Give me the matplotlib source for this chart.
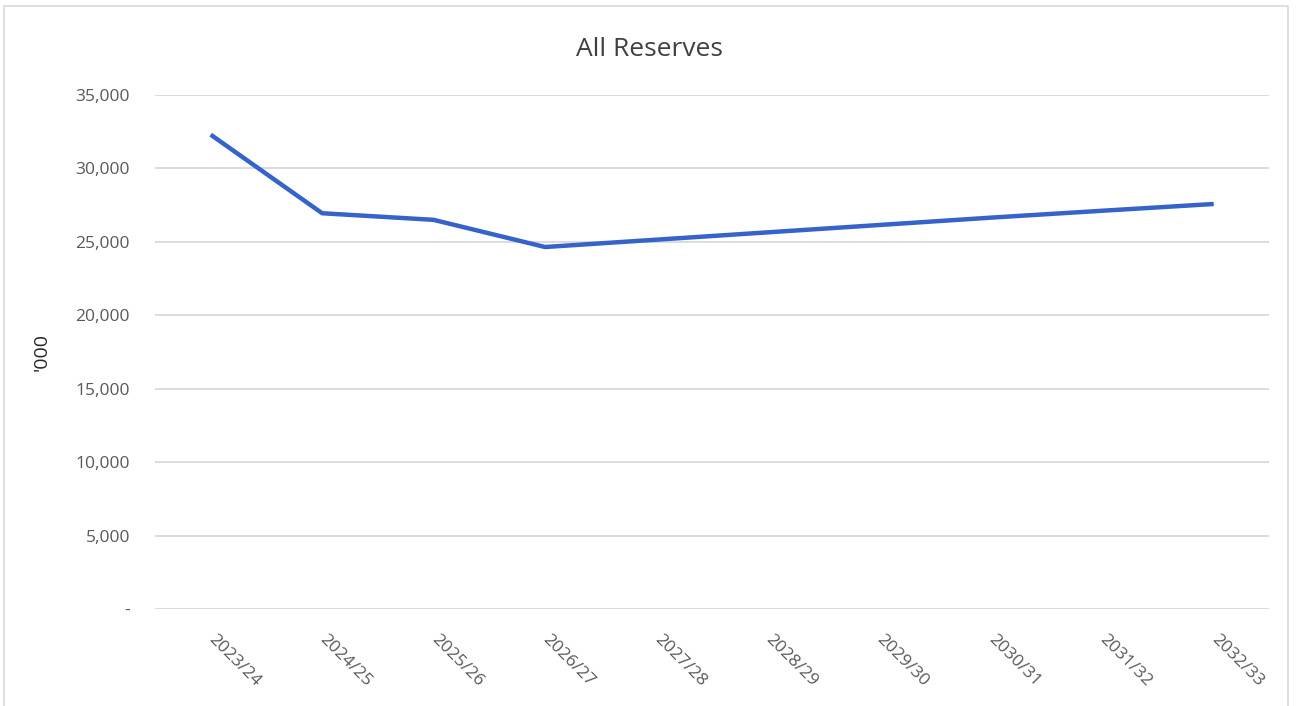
import matplotlib.pyplot as plt
from matplotlib.patches import Rectangle
from matplotlib.ticker import FuncFormatter

years = ["2023/24", "2024/25", "2025/26", "2026/27", "2027/28",
         "2028/29", "2029/30", "2030/31", "2031/32", "2032/33"]
reserves = [32300, 26950, 26500, 24650, 25150,
            25650, 26150, 26650, 27120, 27580]

plt.rcParams["font.family"] = ["Open Sans", "DejaVu Sans"]

fig = plt.figure(figsize=(12.98, 7.06), dpi=100)
ax = fig.add_axes([0.1194, 0.1374, 0.8586, 0.728])

x = range(len(years))
ax.plot(x, reserves, color="#3563c9", linewidth=3.2, solid_capstyle="butt")

ax.set_xlim(-0.5, len(years) - 0.5)
ax.set_ylim(0, 35000)
ax.set_yticks(range(0, 35001, 5000))
ax.yaxis.set_major_formatter(FuncFormatter(lambda v, _: "-" if v == 0 else f"{v:,.0f}"))
ax.grid(axis="y", color="#d9d9d9", linewidth=1.3)
ax.set_axisbelow(True)

ax.set_xticks(list(x))
ax.set_xticklabels(years, rotation=-45, ha="left", va="center", rotation_mode="anchor")
ax.tick_params(axis="x", length=0, pad=20, labelsize=12.5, labelcolor="#595959")
ax.tick_params(axis="y", length=0, pad=18, labelsize=12.5, labelcolor="#595959")
for s in ax.spines.values():
    s.set_visible(False)

ax.set_ylabel("'000", fontsize=14, color="#262626", labelpad=18)
fig.text(0.5, 1 - 49 / 706, "All Reserves", fontsize=19, color="#404040",
         ha="center", va="center")

# light frame round the chart area
fig.patches.append(Rectangle((4 / 1298, -0.01), 1284 / 1298, 1 - 6 / 706 + 0.01,
                             transform=fig.transFigure, fill=False,
                             edgecolor="#d9d9d9", linewidth=1.2))

fig.savefig("out.png", dpi=100)
